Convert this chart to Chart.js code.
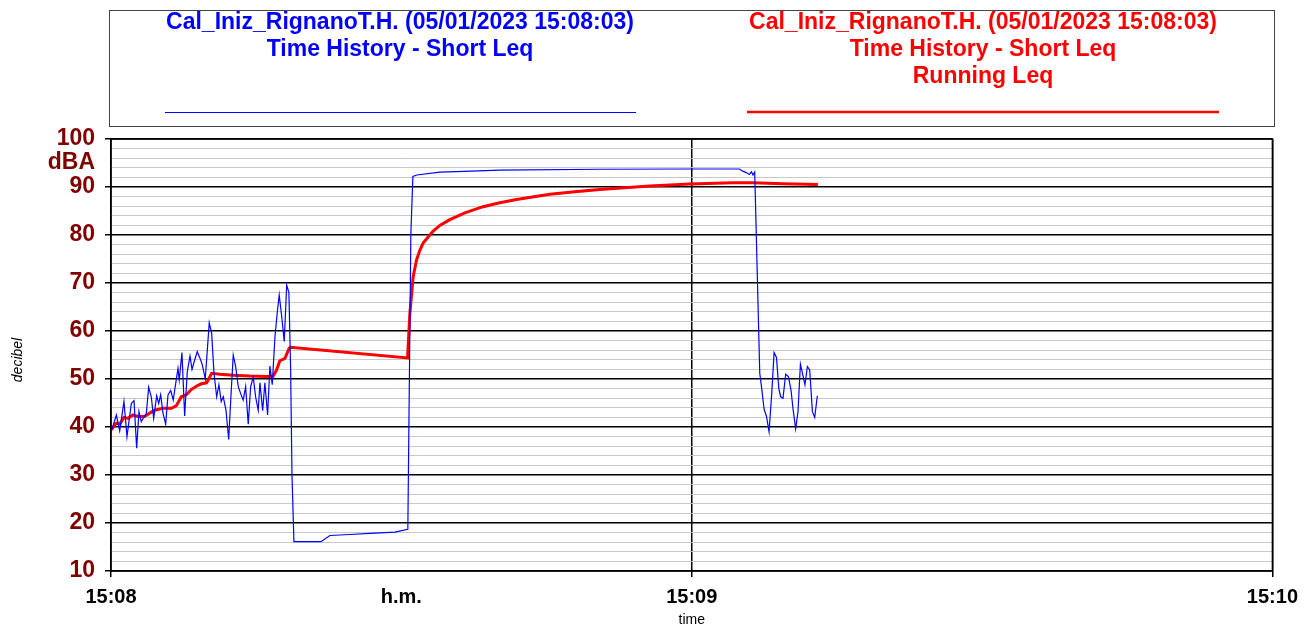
<!DOCTYPE html>
<html>
<head>
<meta charset="utf-8">
<script src="https://cdn.jsdelivr.net/npm/chart.js@4/dist/chart.umd.min.js"></script>
<style>
  body { margin: 0; background: #fff; }
  canvas { display: block; }
</style>
</head>
<body>
<canvas id="chart" width="1306" height="630"></canvas>
<script>
// seconds after 15:08:00
const blueTime = [0.10, 0.55, 0.90, 1.34, 1.65, 2.10, 2.38, 2.65, 2.89, 3.13, 3.41, 3.65, 3.89, 4.16, 4.41, 4.72,
    4.93, 5.13, 5.37, 5.65, 5.89, 6.17, 6.43, 6.74, 6.92, 7.05, 7.33, 7.61, 7.88, 8.16, 8.37, 8.64, 8.91, 9.16,
    9.43, 9.74, 10.15, 10.40, 10.64, 10.92, 11.15, 11.39, 11.60, 11.88, 12.16, 12.39, 12.63, 12.88, 13.15, 13.39,
    13.66, 13.91, 14.18, 14.43, 14.70, 14.94, 15.21, 15.39, 15.67, 15.90, 16.18, 16.42, 16.66, 16.94, 17.17, 17.38,
    17.66, 17.90, 18.15, 18.38, 18.56, 18.70, 18.90, 21.69, 22.62, 23.65, 24.68, 27.26, 29.33, 30.67, 30.98, 31.19,
    31.60, 33.98, 35.70, 40.17, 50.50, 59.45, 64.93, 65.27, 65.62, 65.96, 66.17, 66.33, 66.51, 67.03, 67.21,
    67.48, 67.73, 67.99, 68.27, 68.51, 68.76, 69.00, 69.20, 69.43, 69.71, 69.99, 70.26, 70.46, 70.74, 70.98,
    71.23, 71.44, 71.70, 71.95, 72.19, 72.47, 72.71, 72.98];
const blueLeq = [39.5, 42.5, 39.2, 45.3, 38.0, 44.9, 45.5, 35.6, 43.2, 41.1, 42.1, 42.8, 48.3, 46.3, 41.8, 46.5,
    44.9, 46.7, 42.9, 40.6, 46.7, 47.6, 45.6, 49.8, 52.2, 49.8, 55.5, 42.3, 51.5, 54.8, 52.0, 53.9, 55.7, 54.5,
    53.0, 50.0, 61.7, 59.5, 51.2, 46.3, 48.8, 45.3, 46.3, 43.5, 37.4, 46.3, 55.0, 52.6, 48.4, 47.0,
    45.6, 48.4, 40.6, 48.4, 50.4, 46.3, 43.5, 49.2, 43.4, 49.2, 42.5, 52.7, 48.8, 58.8, 63.7, 67.5,
    62.6, 57.8, 69.6, 68.0, 52.0, 30.0, 16.1, 16.1, 17.4, 17.5, 17.6, 17.9, 18.1, 18.7, 80.0, 92.2,
    92.5, 93.1, 93.2, 93.5, 93.7, 93.75, 93.75, 93.3, 93.0, 92.6, 93.2, 92.5, 93.1, 51.2, 48.4,
    43.7, 42.2, 39.0, 47.0, 55.5, 54.5, 48.0, 46.3, 46.0, 51.0, 50.5, 47.7, 43.9, 39.6, 43.2,
    53.1, 51.2, 48.8, 52.6, 51.9, 43.2, 42.0, 46.5];

const redTime = [0.03, 0.55, 0.90, 1.34, 1.76, 2.27, 2.79, 3.48, 4.00, 4.51, 5.37, 6.23, 6.74, 7.26, 7.78, 8.29,
    8.81, 9.33, 9.88, 10.40, 11.26, 12.63, 14.36, 16.08, 16.76, 17.11, 17.45, 17.97, 18.41, 18.54, 30.64, 30.88,
    31.22, 31.57, 31.91, 32.25, 32.94, 33.29, 33.98, 35.01, 36.56, 38.45, 40.17, 41.90, 45.34, 47.92, 50.50,
    55.66, 59.80, 64.27, 66.33, 69.43, 73.04];
const redLeq = [39.4, 40.8, 40.6, 42.0, 41.8, 42.5, 42.2, 42.2, 42.9, 43.5, 43.9, 43.9, 44.4, 46.3, 46.7, 47.8,
    48.5, 49.0, 49.2, 51.2, 51.0, 50.8, 50.6, 50.5, 50.6, 51.9, 53.8, 54.3, 56.4, 56.6, 54.4, 63.7,
    71.3, 74.8, 76.8, 78.3, 80.0, 80.8, 82.0, 83.2, 84.6, 85.9, 86.7, 87.4, 88.5, 89.0, 89.5,
    90.2, 90.6, 90.9, 90.9, 90.7, 90.5];

const xTicks = [0, 30, 60, 120];
const xTickLabels = ["15:08", "h.m.", "15:09", "15:10"];

const legendBlue = ["Cal_Iniz_RignanoT.H. (05/01/2023 15:08:03)", "Time History - Short Leq"];
const legendRed = ["Cal_Iniz_RignanoT.H. (05/01/2023 15:08:03)", "Time History - Short Leq", "Running Leq"];

const FONT = "'Liberation Sans', Arial, sans-serif";

const decorPlugin = {
    id: "decor",
    beforeDraw(chart) {
        const c = chart.ctx;
        c.save();
        c.fillStyle = "#fff";
        c.fillRect(0, 0, chart.width, chart.height);
        c.restore();
    },
    afterDraw(chart) {
        const c = chart.ctx;
        const a = chart.chartArea;
        c.save();
        // plot frame
        c.strokeStyle = "#000";
        c.lineWidth = 1.5;
        c.strokeRect(a.left, a.top, a.right - a.left, a.bottom - a.top);

        // legend box
        c.strokeStyle = "#444";
        c.lineWidth = 1;
        c.strokeRect(109.5, 10.5, 1165, 116);
        c.font = "bold 23px " + FONT;
        c.textAlign = "center";
        c.textBaseline = "middle";
        c.fillStyle = "#0000ff";
        legendBlue.forEach((t, i) => c.fillText(t, 400, 23 + i * 27));
        c.fillStyle = "#ff0000";
        legendRed.forEach((t, i) => c.fillText(t, 983, 23 + i * 27));
        c.beginPath();
        c.strokeStyle = "#0000ff";
        c.lineWidth = 1;
        c.moveTo(165, 112.5);
        c.lineTo(636, 112.5);
        c.stroke();
        c.beginPath();
        c.strokeStyle = "#ff0000";
        c.lineWidth = 2.5;
        c.moveTo(747, 112);
        c.lineTo(1219, 112);
        c.stroke();

        // unit and axis titles
        c.fillStyle = "#800000";
        c.font = "bold 23px " + FONT;
        c.textAlign = "right";
        c.fillText("dBA", 95, 163);
        c.fillStyle = "#000";
        c.font = "14px " + FONT;
        c.textAlign = "center";
        c.fillText("time", (a.left + a.right) / 2, 620);
        c.translate(18, 360);
        c.rotate(-Math.PI / 2);
        c.font = "italic 14px " + FONT;
        c.fillText("decibel", 0, 0);
        c.restore();
    },
};

const chart = new Chart(document.getElementById("chart"), {
    type: "line",
    data: {
        datasets: [
            {
                label: "Short Leq",
                data: blueTime.map((t, i) => ({ x: t, y: blueLeq[i] })),
                borderColor: "#0000ff",
                borderWidth: 1.2,
                pointRadius: 0,
                tension: 0,
            },
            {
                label: "Running Leq",
                data: redTime.map((t, i) => ({ x: t, y: redLeq[i] })),
                borderColor: "#ff0000",
                borderWidth: 3,
                pointRadius: 0,
                tension: 0,
            },
        ],
    },
    options: {
        responsive: false,
        animation: false,
        events: [],
        layout: { padding: { top: 139, right: 33, left: 0, bottom: 0 } },
        plugins: { legend: { display: false }, tooltip: { enabled: false } },
        scales: {
            x: {
                type: "linear",
                min: 0,
                max: 120,
                afterBuildTicks: (scale) => {
                    scale.ticks = xTicks.map((v) => ({ value: v }));
                },
                afterFit: (scale) => {
                    scale.height = 59;
                },
                border: { display: false },
                grid: {
                    color: (ctx) => (ctx.tick && ctx.tick.value === 30 ? "rgba(0,0,0,0)" : "#000"),
                    lineWidth: 1.5,
                    tickLength: 6,
                },
                ticks: {
                    autoSkip: false,
                    maxRotation: 0,
                    padding: 8,
                    color: "#000",
                    font: { family: FONT, size: 20, weight: "bold" },
                    callback: (v) => {
                        const i = xTicks.indexOf(v);
                        return i >= 0 ? xTickLabels[i] : "";
                    },
                },
            },
            y: {
                min: 10,
                max: 100,
                afterFit: (scale) => {
                    scale.width = 111;
                },
                border: { display: false },
                grid: {
                    color: (ctx) => (ctx.tick && ctx.tick.value % 10 === 0 ? "#000" : "#c8c8c8"),
                    lineWidth: (ctx) => (ctx.tick && ctx.tick.value % 10 === 0 ? 1.5 : 1),
                    tickColor: (ctx) => (ctx.tick && ctx.tick.value % 10 === 0 ? "#000" : "rgba(0,0,0,0)"),
                    tickLength: 6,
                },
                ticks: {
                    stepSize: 2,
                    autoSkip: false,
                    padding: 10,
                    color: "#800000",
                    font: { family: FONT, size: 23, weight: "bold" },
                    callback: (v) => (v % 10 === 0 ? String(v) : ""),
                },
            },
        },
    },
    plugins: [decorPlugin],
});
</script>
</body>
</html>
